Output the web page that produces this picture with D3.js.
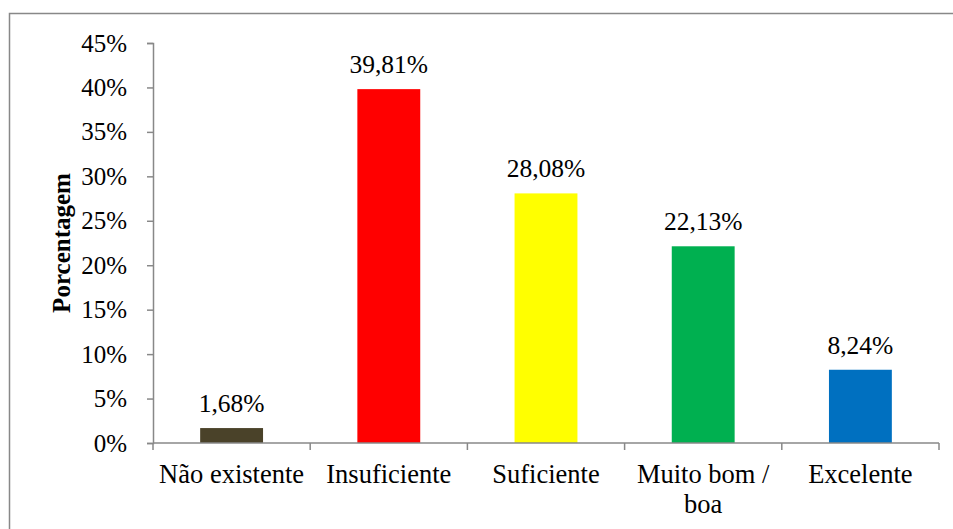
<!DOCTYPE html>
<html><head><meta charset="utf-8">
<script src="https://cdn.jsdelivr.net/npm/d3@7"></script>
<style>body{margin:0;background:#fff;} svg{display:block;} svg text{font-family:"Liberation Serif","Times New Roman",Times,"DejaVu Serif",serif;}</style>
</head><body>
<script>
const categories = ["Não existente", "Insuficiente", "Suficiente", "Muito bom / boa", "Excelente"];
const values = [1.68, 39.81, 28.08, 22.13, 8.24];
const valueLabels = ["1,68%", "39,81%", "28,08%", "22,13%", "8,24%"];
const colors = ["#4A4229", "#FF0000", "#FFFF00", "#00B050", "#0070C0"];
const yTicks = [0, 5, 10, 15, 20, 25, 30, 35, 40, 45];
const yTitle = "Porcentagem";

(function () {
const W = 953, H = 529;
const svg = d3.select("body").append("svg").attr("width", W).attr("height", H);

svg.append("rect").attr("x", 9.5).attr("y", 13.5).attr("width", 1000).attr("height", 600)
  .attr("fill", "none").attr("stroke", "#888").attr("stroke-width", 1.5);

const pLeft = 153, pRight = 939, pTop = 43, pBottom = 443;
const x = d3.scaleBand().domain(categories).range([pLeft, pRight]).paddingInner(0.6).paddingOuter(0.3);
const y = d3.scaleLinear().domain([0, 45]).range([pBottom, pTop]);

// y axis
const gy = svg.append("g").attr("transform", `translate(${pLeft},0)`)
  .call(d3.axisLeft(y).tickValues(yTicks).tickFormat(d => d + "%").tickSizeOuter(0).tickSize(6).tickPadding(20));
gy.attr("font-family", null);
gy.select(".domain").attr("stroke", "#888").attr("stroke-width", 1.5);
gy.selectAll(".tick line").attr("stroke", "#888").attr("stroke-width", 1.5);
gy.selectAll("text").attr("font-size", 25).attr("fill", "#000");

// bars
svg.selectAll("rect.bar").data(categories).enter().append("rect").attr("class", "bar")
  .attr("x", d => x(d)).attr("width", x.bandwidth())
  .attr("y", (d, i) => y(values[i])).attr("height", (d, i) => pBottom - y(values[i]))
  .attr("fill", (d, i) => colors[i]);

// x axis
const step = (pRight - pLeft) / categories.length;
const xb = svg.append("g");
xb.append("line").attr("x1", pLeft).attr("x2", pRight).attr("y1", pBottom).attr("y2", pBottom)
  .attr("stroke", "#888").attr("stroke-width", 1.5);
const bounds = d3.range(categories.length + 1).map(i => pLeft + i * step);
xb.selectAll("line.tk").data(bounds).enter().append("line").attr("class", "tk")
  .attr("x1", d => d).attr("x2", d => d).attr("y1", pBottom).attr("y2", pBottom + 7)
  .attr("stroke", "#888").attr("stroke-width", 1.5);

// category labels
const catLines = [["Não existente"], ["Insuficiente"], ["Suficiente"], ["Muito bom /", "boa"], ["Excelente"]];
categories.forEach((c, i) => {
  const cx = x(c) + x.bandwidth() / 2;
  const t = svg.append("text").attr("x", cx).attr("y", 483).attr("text-anchor", "middle")
    .attr("font-size", 26.5).attr("fill", "#000");
  catLines[i].forEach((ln, j) => t.append("tspan").attr("x", cx).attr("dy", j ? 30 : 0).text(ln));
});

// value labels
svg.selectAll("text.val").data(categories).enter().append("text").attr("class", "val")
  .attr("x", d => x(d) + x.bandwidth() / 2).attr("y", (d, i) => y(values[i]) - 16)
  .attr("text-anchor", "middle").attr("font-size", 25.5).attr("fill", "#000")
  .text((d, i) => valueLabels[i]);

// y title
svg.append("text").attr("transform", `translate(70,${(pTop + pBottom) / 2}) rotate(-90)`)
  .attr("text-anchor", "middle").attr("font-size", 25).attr("font-weight", "bold")
  .attr("fill", "#000").text(yTitle);
})();
</script>
</body></html>
